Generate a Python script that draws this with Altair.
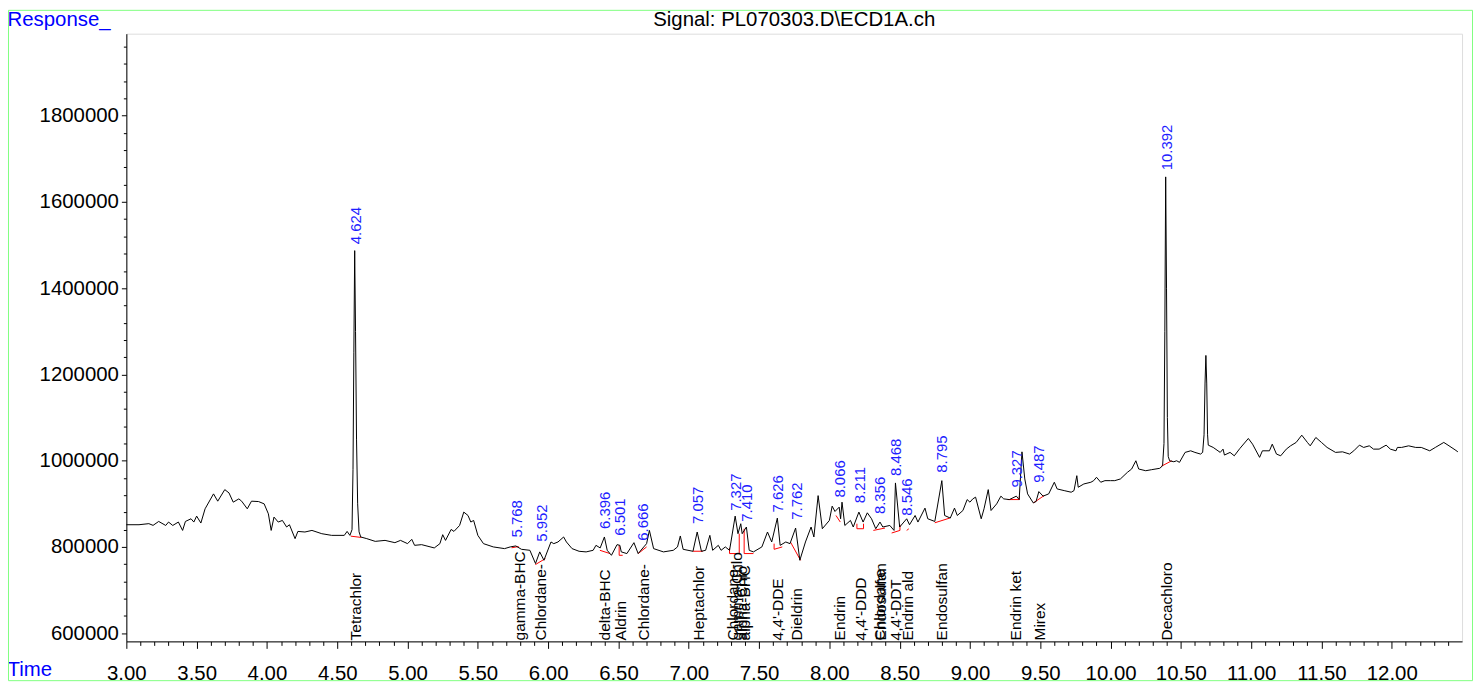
import altair as alt
import pandas as pd

# ---------------- data ----------------
trace_t = [3.00, 3.09, 3.16, 3.19, 3.23, 3.28, 3.30, 3.33, 3.37, 3.40, 3.42, 3.46, 3.48, 3.50, 3.53, 3.56,
           3.62, 3.65, 3.70, 3.73, 3.76, 3.80, 3.82, 3.86, 3.89, 3.94, 3.98, 4.01, 4.03, 4.05, 4.08, 4.11,
           4.14, 4.16, 4.20, 4.22, 4.27, 4.32, 4.39, 4.46, 4.55, 4.57, 4.59,
           4.605, 4.612, 4.618, 4.624, 4.630, 4.637, 4.645, 4.655, 4.667,
           4.71, 4.77, 4.84, 4.91, 4.95, 5.00, 5.03, 5.05, 5.10, 5.19, 5.23, 5.25, 5.27, 5.31, 5.33, 5.37,
           5.40, 5.43, 5.45, 5.47, 5.50, 5.54, 5.61, 5.69, 5.73, 5.77, 5.81, 5.87, 5.91, 5.94, 5.97, 6.02,
           6.04, 6.07, 6.11, 6.13, 6.17, 6.22, 6.27, 6.32, 6.34, 6.37, 6.40, 6.42, 6.45, 6.49, 6.51, 6.52,
           6.56, 6.61, 6.64, 6.68, 6.70, 6.72, 6.75, 6.82, 6.89, 6.92, 6.94, 6.96, 7.03, 7.06, 7.09, 7.12,
           7.15, 7.17, 7.21, 7.23, 7.26, 7.29, 7.30, 7.33, 7.35, 7.37, 7.38, 7.41, 7.43, 7.46, 7.52, 7.56,
           7.59, 7.63, 7.65, 7.69, 7.72, 7.76, 7.79, 7.83, 7.87, 7.89, 7.92, 7.95, 8.00, 8.02, 8.04, 8.07,
           8.08, 8.09, 8.11, 8.15, 8.17, 8.21, 8.24, 8.27, 8.30, 8.33, 8.36, 8.38, 8.43, 8.46, 8.47, 8.50,
           8.53, 8.55, 8.57, 8.61, 8.63, 8.68, 8.70, 8.75, 8.80, 8.82, 8.86, 8.89, 8.91, 8.95, 8.98, 9.00,
           9.02, 9.04, 9.08, 9.10, 9.13, 9.15, 9.19, 9.22, 9.24, 9.28, 9.33, 9.35, 9.37, 9.39, 9.41, 9.45,
           9.47, 9.49, 9.52, 9.56, 9.60, 9.62, 9.67, 9.72, 9.74, 9.76, 9.77, 9.81, 9.86, 9.88, 9.90, 9.93,
           9.96, 10.00, 10.03, 10.07, 10.12, 10.15, 10.18, 10.20, 10.25, 10.29, 10.35,
           10.37, 10.38, 10.386, 10.392, 10.398, 10.404, 10.41, 10.42,
           10.45, 10.47, 10.49, 10.53, 10.57, 10.60, 10.64, 10.655,
           10.665, 10.672, 10.678, 10.684, 10.69, 10.695,
           10.73, 10.78, 10.80, 10.81, 10.85, 10.88, 10.92, 10.98, 11.01, 11.06, 11.08, 11.13, 11.15, 11.18,
           11.21, 11.25, 11.28, 11.32, 11.36, 11.40, 11.42, 11.46, 11.50, 11.54, 11.60, 11.65, 11.70, 11.73,
           11.77, 11.80, 11.84, 11.87, 11.91, 11.96, 11.99, 12.03, 12.04, 12.07, 12.12, 12.17, 12.21, 12.27,
           12.31, 12.37, 12.40, 12.45, 12.47]
trace_v = [851500, 851500, 854000, 850000, 859100, 849800, 857700, 849800, 857700, 838300, 859100, 865300,
           857700, 871500, 855400, 888400, 923000, 906100, 932900, 925300, 903800, 911400, 906100, 888400,
           906100, 905200, 899900, 876800, 838300, 869200, 857700, 861400, 846200, 851500, 819200, 836000,
           834600, 838300, 830700, 826800, 826800, 836000, 826800,
           840000, 980000, 1250000, 1487000, 1300000, 1050000, 900000, 835000, 823100,
           819200, 812900, 815200, 809900, 815200, 807600, 817600, 803700, 805300, 797700, 807600, 828400,
           815200, 840600, 836000, 849800, 880800, 872900, 857700, 861400, 826800, 807600, 800000, 796100,
           800000, 802300, 794500, 792200, 761500, 788500, 769100, 811500, 807600, 811500, 823100, 811500,
           796100, 789900, 788500, 792200, 803700, 797700, 823100, 792200, 780600, 805300, 803700, 788500,
           784600, 809900, 784600, 800000, 807600, 838300, 796100, 788500, 792200, 800000, 825400, 794500,
           789900, 834600, 789900, 792200, 826800, 792200, 803700, 792200, 800000, 792200, 811500, 871500,
           830700, 853800, 830700, 846200, 792200, 788500, 800000, 834600, 811500, 866900, 803700, 811500,
           807600, 843800, 769100, 811500, 846200, 823100, 919000, 842200, 861400, 894600, 882200, 892300,
           865300, 903800, 849800, 861400, 846200, 880800, 857700, 879100, 865300, 842200, 857700, 846200,
           849800, 838300, 948400, 846200, 857700, 865300, 851500, 872900, 857700, 890000, 865300, 859100,
           953700, 872900, 866900, 890000, 872900, 884500, 909800, 903800, 911400, 915400, 865300, 888400,
           932900, 884500, 899900, 917700, 911400, 909800, 917700, 909800, 1020500, 957600, 923000, 902200,
           905200, 928300, 917700, 923000, 950000, 934500, 930600, 926900, 930600, 965200, 938400, 946000,
           950000, 953700, 961500, 950000, 953700, 953700, 953700, 957600, 973000, 980700, 999800, 980700,
           976700, 979000, 982300,
           988300, 1040000, 1300000, 1658000, 1400000, 1100000, 1010000, 999800,
           997500, 999800, 996100, 1019200, 1022900, 1019200, 1015300, 1019200,
           1060000, 1180000, 1244000, 1180000, 1060000, 1036000,
           1030700, 1019200, 1026800, 1013000, 1019200, 1011300, 1028400, 1051500, 1038300, 1007700,
           1022900, 1022900, 1038300, 1015300, 1011300, 1026800, 1034400, 1042300, 1059100, 1042300,
           1034400, 1053800, 1042300, 1030700, 1019200, 1020500, 1015300, 1022900, 1036000, 1030700,
           1034400, 1026800, 1026800, 1036000, 1026800, 1022900, 1030700, 1030700, 1034400, 1030700,
           1030700, 1022900, 1030700, 1042300, 1036000, 1025200, 1020500]

# integration baselines (red segments)
bl_t1 = [4.596, 5.74, 5.909, 6.368, 6.505, 6.505, 6.64, 7.03, 7.29, 7.29, 7.359, 7.394, 7.394, 7.607, 7.607,
         7.724, 8.047, 8.196, 8.196, 8.243, 8.313, 8.443, 8.502, 8.55, 8.75, 9.268, 9.351, 9.452, 10.36]
bl_v1 = [825000, 798000, 759000, 792200, 780600, 780600, 784600, 790000, 784600, 784600, 784600, 784600,
         784600, 794500, 794500, 811000, 872900, 842200, 842200, 842200, 838300, 832300, 838300, 838300,
         856000, 909800, 909800, 902200, 986800]
bl_t2 = [4.671, 5.79, 5.98, 6.44, 6.53, 6.505, 6.70, 7.10, 7.359, 7.29, 7.359, 7.46, 7.394, 7.665, 7.607,
         7.795, 8.078, 8.243, 8.196, 8.243, 8.396, 8.502, 8.502, 8.565, 8.856, 9.351, 9.351, 9.527, 10.435]
bl_v2 = [822000, 801000, 773000, 784600, 780600, 803700, 800000, 790000, 784600, 797700, 830700, 784600,
         842200, 800000, 807600, 769000, 857700, 842200, 853800, 853800, 843800, 838300, 851500, 842000,
         866900, 909800, 917700, 919000, 999800]

# retention-time labels (blue)
peak_labels = ["4.624", "5.768", "5.952", "6.396", "6.501", "6.666", "7.057", "7.327", "7.410", "7.626",
               "7.762", "8.066", "8.211", "8.356", "8.468", "8.546", "8.795", "9.327", "9.487", "10.392"]
peak_v = [1495000, 815200, 805300, 834600, 819200, 807600, 846200, 876800, 851500, 872900,
          856000, 907500, 894600, 869200, 957600, 865300, 965200, 930600, 942100, 1666500]

# compound labels (black)
cmpd_names = ["Tetrachlor", "gamma-BHC", "Chlordane-", "delta-BHC", "Aldrin", "Chlordane-", "Heptachlor",
              "Chlordane-", "gamma-Chlo", "alpha-Chlo", "alpha-BHC", "4,4'-DDE", "Dieldrin", "Endrin",
              "4,4'-DDD", "Chlordane", "Endosulfan", "4,4'-DDT", "Endrin ald", "Endosulfan", "Endrin ket",
              "Mirex", "Decachloro"]
cmpd_t = [4.627, 5.79, 5.944, 6.40, 6.51, 6.675, 7.064, 7.31, 7.335, 7.37, 7.395, 7.629, 7.76, 8.066,
          8.215, 8.352, 8.362, 8.467, 8.549, 8.797, 9.32, 9.49, 10.395]

title_text = ["Signal: PL070303.D\\ECD1A.ch"]

x_ticks = [round(3.0 + 0.1 * i, 1) for i in range(95)]
y_ticks = [600000 + 40000 * i for i in range(35)]

# ---------------- chart ----------------
FONT = "Liberation Sans"
W, H = 1343, 611
PAD = {"left": 119, "top": 24, "right": 12, "bottom": 40}

df_trace = pd.DataFrame({"t": trace_t, "v": trace_v})
df_bl = pd.DataFrame({"t1": bl_t1, "v1": bl_v1, "t2": bl_t2, "v2": bl_v2})
df_pk = pd.DataFrame({"lab": peak_labels, "t": [float(s) for s in peak_labels], "v": peak_v})
df_cm = pd.DataFrame({"name": cmpd_names, "t": cmpd_t})
df_title = pd.DataFrame({"txt": title_text})

xscale = alt.Scale(domain=[3.0, 12.5], nice=False, zero=False)
yscale = alt.Scale(domain=[581000, 1990000], nice=False, zero=False)

xaxis = alt.Axis(
    values=x_ticks,
    labelExpr="abs(datum.value*2 - round(datum.value*2)) < 0.001 ? format(datum.value, '.2f') : ''",
    tickSize={"condition": {"test": "abs(datum.value*2 - round(datum.value*2)) < 0.001", "value": 7}, "value": 4},
    labelFont=FONT, labelFontSize=20.5, labelColor="black", labelBaseline="alphabetic",
    labelPadding=31, labelOverlap=False, labelFlush=False,
    domainColor="black", tickColor="black", grid=False,
    title="Time", titleX=-120, titleY=34, titleAlign="left", titleBaseline="alphabetic",
    titleColor="#0000FF", titleFont=FONT, titleFontSize=20.5, titleFontWeight="normal",
)
yaxis = alt.Axis(
    values=y_ticks,
    labelExpr="datum.value % 200000 == 0 ? format(datum.value, 'd') : ''",
    tickSize={"condition": {"test": "datum.value % 200000 == 0", "value": 5}, "value": 3},
    labelFont=FONT, labelFontSize=20.5, labelColor="black", labelPadding=3, labelOverlap=False,
    labelFlush=False, domainColor="black", tickColor="black", grid=False,
    title="Response_", titleAngle=0, titleX=-120, titleY=-8, titleAlign="left",
    titleBaseline="alphabetic", titleColor="#0000FF", titleFont=FONT, titleFontSize=20.5,
    titleFontWeight="normal",
)

line = alt.Chart(df_trace).mark_line(color="black", strokeWidth=1, interpolate="linear").encode(
    x=alt.X("t:Q", scale=xscale, axis=xaxis),
    y=alt.Y("v:Q", scale=yscale, axis=yaxis),
)

base = alt.Chart(df_bl).mark_rule(color="#FF0000", strokeWidth=1).encode(
    x=alt.X("t1:Q", scale=xscale, axis=xaxis),
    y=alt.Y("v1:Q", scale=yscale, axis=yaxis),
    x2="t2:Q",
    y2="v2:Q",
)

peaks = alt.Chart(df_pk).mark_text(
    angle=270, align="left", baseline="middle", dx=3, dy=1, fontSize=15, font=FONT, color="#1E1EFF"
).encode(
    x=alt.X("t:Q", scale=xscale, axis=xaxis),
    y=alt.Y("v:Q", scale=yscale, axis=yaxis),
    text="lab:N",
)

cmpds = alt.Chart(df_cm).mark_text(
    angle=270, align="left", baseline="middle", dy=1, fontSize=15.5, font=FONT, color="black"
).encode(
    x=alt.X("t:Q", scale=xscale, axis=xaxis),
    y=alt.value(H - 1),
    text="name:N",
)

title = alt.Chart(df_title).mark_text(
    align="center", baseline="alphabetic", fontSize=20.5, font=FONT, color="black"
).encode(x=alt.value(W / 2), y=alt.value(-8), text="txt:N")

frame = alt.Chart(pd.DataFrame({"k": [0]})).mark_rect(
    fill="transparent", stroke="#80FF80", strokeWidth=1
).encode(
    x=alt.value(-118.5), x2=alt.value(W + 10.5), y=alt.value(-23.5), y2=alt.value(H + PAD["bottom"] - 0.5)
)

chart = alt.layer(frame, base, line, peaks, cmpds, title).properties(
    width=W, height=H,
    autosize=alt.AutoSizeParams(type="none"),
    padding=PAD,
).configure_view(strokeWidth=0).configure(background="white")

chart.save("out.html", embed_options={"renderer": "svg", "actions": False})
